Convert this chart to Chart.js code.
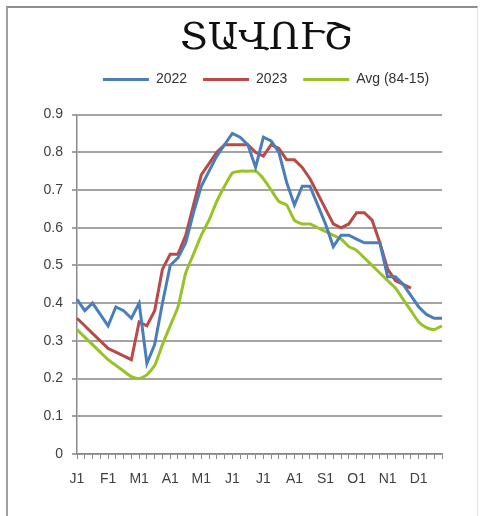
<!DOCTYPE html>
<html>
<head>
<meta charset="utf-8">
<script src="https://cdn.jsdelivr.net/npm/chart.js@4.4.0/dist/chart.umd.min.js"></script>
<style>
    html, body { margin: 0; padding: 0; background: #fff; }
    #wrap { position: relative; width: 482px; height: 516px; }
    #frame {
        position: absolute; left: 6px; top: 6px; right: 4px; bottom: -4px;
        border-top: 2px solid #8e8e8e; border-left: 2px solid #a0a0a0; border-right: 1px solid #e2e2e2;
        pointer-events: none;
    }
</style>
</head>
<body>
<div id="wrap">
    <canvas id="tavushChart" width="482" height="516"></canvas>
    <div id="frame"></div>
</div>
<script>
// month initials on the axis, one label per 4 weekly points
const monthLabels = ['J', 'F', 'M', 'A', 'M', 'J', 'J', 'A', 'S', 'O', 'N', 'D'];
const weekDays = [1, 8, 15, 22];

const values2022 = [0.41, 0.38, 0.40, 0.37, 0.34, 0.39, 0.38, 0.36, 0.40, 0.24, 0.29, 0.40,
    0.50, 0.52, 0.56, 0.64, 0.71, 0.75, 0.79, 0.82, 0.85, 0.84, 0.82, 0.76,
    0.84, 0.83, 0.80, 0.72, 0.66, 0.71, 0.71, 0.66, 0.61, 0.55, 0.58, 0.58,
    0.57, 0.56, 0.56, 0.56, 0.47, 0.47, 0.45, 0.42, 0.39, 0.37, 0.36, 0.36];

const values2023 = [0.36, 0.34, 0.32, 0.30, 0.28, 0.27, 0.26, 0.25, 0.35, 0.34, 0.38, 0.49,
    0.53, 0.53, 0.58, 0.66, 0.74, 0.77, 0.80, 0.82, 0.82, 0.82, 0.82, 0.80,
    0.79, 0.82, 0.81, 0.78, 0.78, 0.76, 0.73, 0.69, 0.65, 0.61, 0.60, 0.61,
    0.64, 0.64, 0.62, 0.56, 0.49, 0.46, 0.45, 0.44, null, null, null, null];

const valuesAvg = [0.33, 0.31, 0.29, 0.27, 0.25, 0.235, 0.22, 0.205, 0.20, 0.21, 0.235, 0.29,
    0.34, 0.39, 0.48, 0.53, 0.58, 0.62, 0.67, 0.71, 0.745, 0.75, 0.75, 0.75,
    0.73, 0.70, 0.67, 0.66, 0.62, 0.61, 0.61, 0.60, 0.59, 0.58, 0.57, 0.55,
    0.54, 0.52, 0.50, 0.48, 0.46, 0.44, 0.41, 0.38, 0.35, 0.335, 0.33, 0.34];

const weekLabels = [];
monthLabels.forEach(m => weekDays.forEach(d => weekLabels.push(m + d)));

const tickFont = { family: 'Liberation Sans', size: 14 };

// extra room under the legend, before the plot
const legendGap = {
    id: 'legendGap',
    beforeInit(chart) {
        const fit = chart.legend.fit;
        chart.legend.fit = function () {
            fit.call(this);
            this.height += 18;
        };
    },
};

new Chart(document.getElementById('tavushChart'), {
    type: 'line',
    data: {
        labels: weekLabels,
        datasets: [
            { label: '2022', data: values2022, borderColor: '#4a7ebb', backgroundColor: '#4a7ebb' },
            { label: '2023', data: values2023, borderColor: '#b94a48', backgroundColor: '#b94a48' },
            { label: 'Avg (84-15)', data: valuesAvg, borderColor: '#97c326', backgroundColor: '#97c326', tension: 0.2 },
        ],
    },
    plugins: [legendGap],
    options: {
        responsive: false,
        animation: false,
        // negative right padding widens the title/legend box so they centre right of the plot
        layout: { padding: { top: 8, right: -40, bottom: 0, left: 10 } },
        elements: {
            line: { borderWidth: 3, tension: 0 },
            point: { radius: 0 },
        },
        plugins: {
            title: {
                display: true,
                text: 'ՏԱՎՈՒՇ',
                color: '#111',
                font: { family: 'DejaVu Serif', size: 38, weight: 'normal' },
                padding: { top: 8, bottom: -5 },
            },
            legend: {
                position: 'top',
                labels: {
                    boxWidth: 46,
                    boxHeight: 3,
                    padding: 16,
                    color: '#333',
                    font: { family: 'Liberation Sans', size: 14 },
                    generateLabels: chart => Chart.defaults.plugins.legend.labels.generateLabels(chart)
                        .map(item => Object.assign(item, { lineWidth: 0, fillStyle: item.strokeStyle })),
                },
            },
            tooltip: { enabled: false },
        },
        scales: {
            x: {
                grid: { drawOnChartArea: false, drawTicks: true, tickLength: 5, color: '#8a8a8a', lineWidth: 1 },
                border: { color: '#8a8a8a', width: 1.5 },
                ticks: {
                    autoSkip: false,
                    maxRotation: 0,
                    padding: 12,
                    color: '#404040',
                    font: tickFont,
                    callback: (value, index) => index % 4 === 0 ? weekLabels[index] : '',
                },
                afterFit: scale => { scale.height = 62; },
            },
            y: {
                min: 0,
                max: 0.9,
                grid: { color: '#a3a3a3', lineWidth: 2, tickLength: 5 },
                border: { color: '#8a8a8a', width: 1.5 },
                ticks: {
                    stepSize: 0.1,
                    padding: 9,
                    color: '#404040',
                    font: tickFont,
                    callback: v => v === 0 ? '0' : v.toFixed(1),
                },
                afterFit: scale => { scale.width = 67; },
            },
            // empty right-hand strip that ends the plot at the right place
            spacer: {
                type: 'linear',
                position: 'right',
                grid: { display: false },
                border: { display: false },
                ticks: { display: false },
                afterFit: scale => { scale.width = 80; },
            },
        },
    },
});
</script>
</body>
</html>
